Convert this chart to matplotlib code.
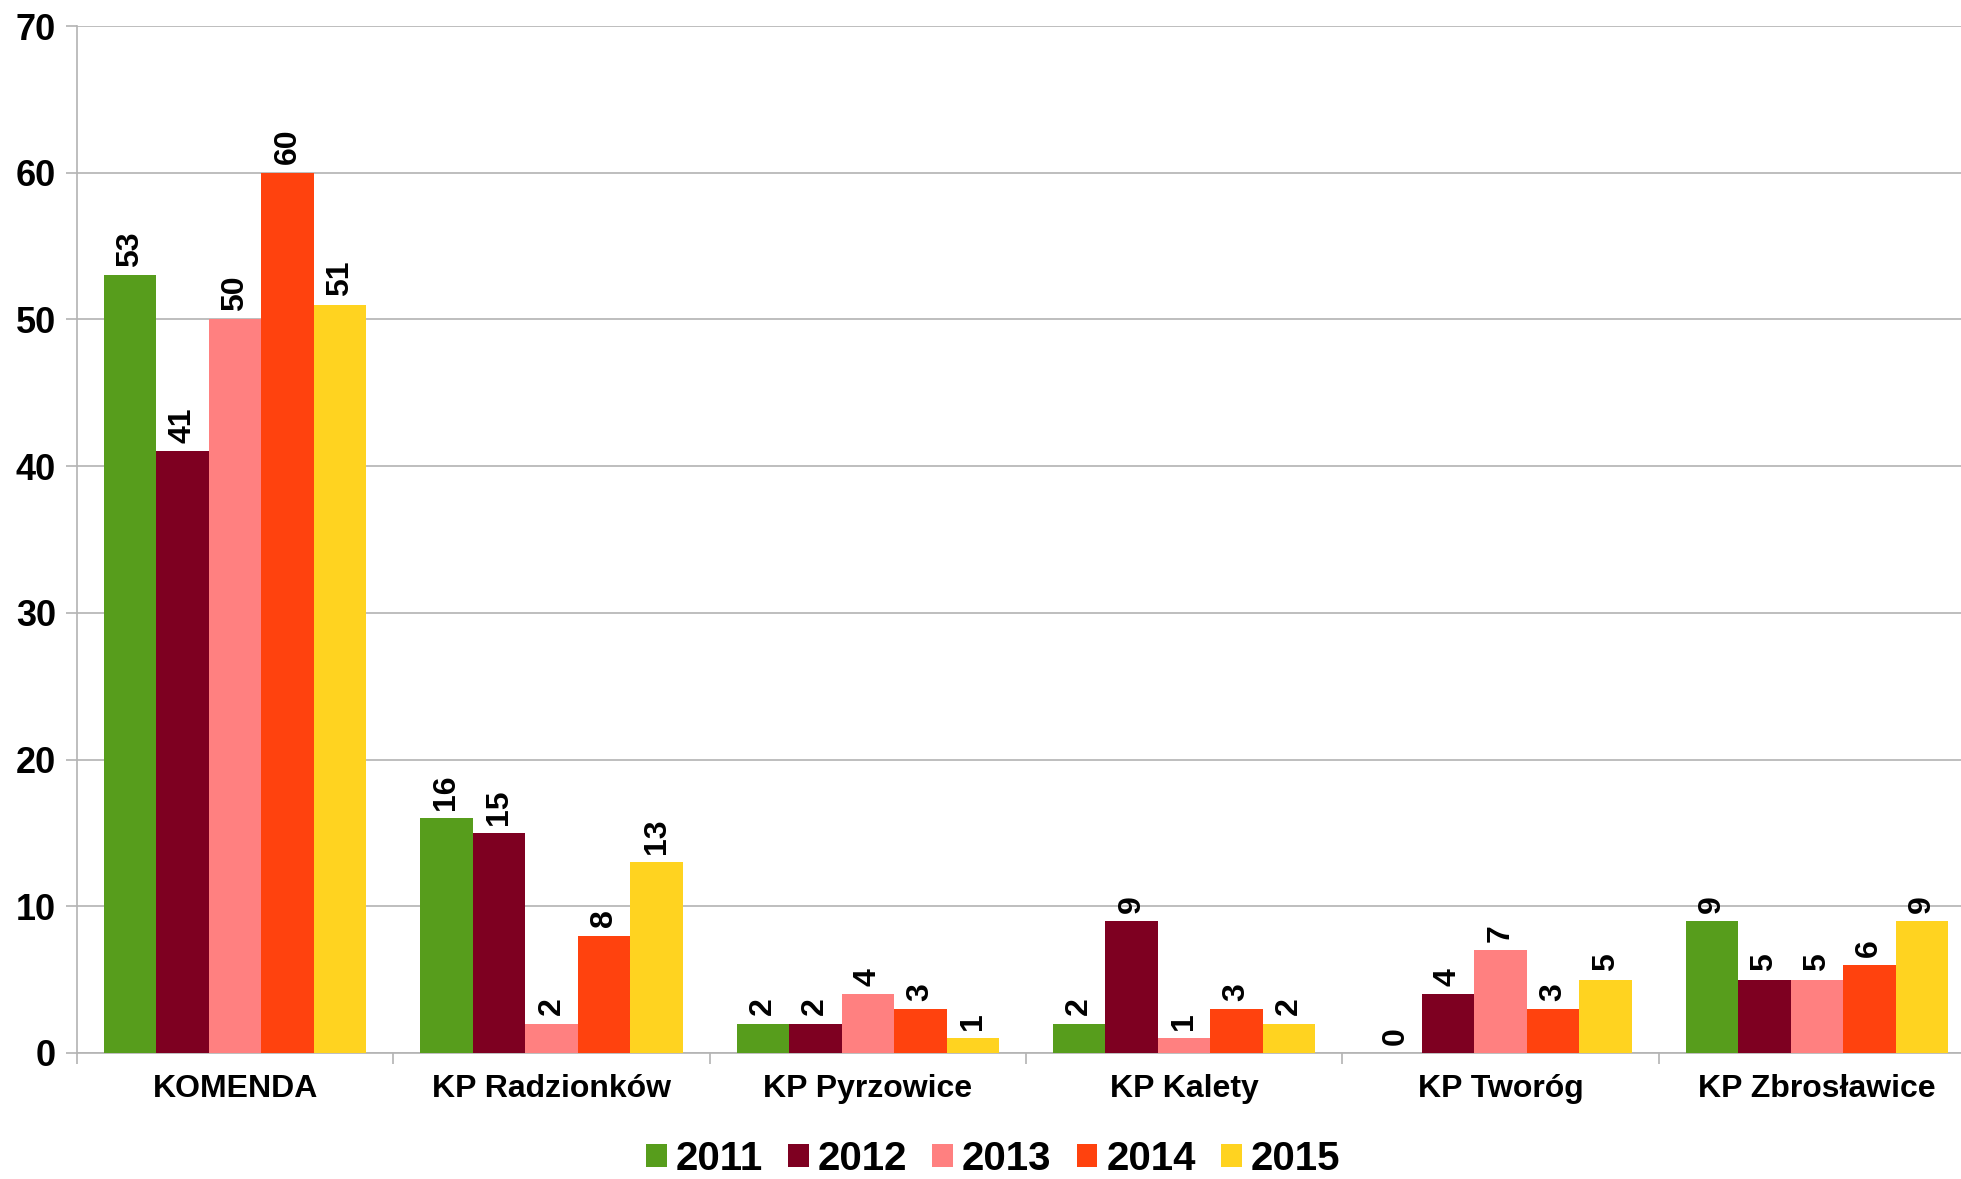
import matplotlib
matplotlib.use("Agg")
import matplotlib.pyplot as plt
import numpy as np
from matplotlib.patches import Patch

categories = ["KOMENDA", "KP Radzionków", "KP Pyrzowice", "KP Kalety", "KP Tworóg", "KP Zbrosławice"]
years = ["2011", "2012", "2013", "2014", "2015"]
v2011 = [53, 16, 2, 2, 0, 9]
v2012 = [41, 15, 2, 9, 4, 5]
v2013 = [50, 2, 4, 1, 7, 5]
v2014 = [60, 8, 3, 3, 3, 6]
v2015 = [51, 13, 1, 2, 5, 9]
series = [v2011, v2012, v2013, v2014, v2015]
colors = ["#579D1C", "#7E0021", "#FF8080", "#FF420E", "#FFD320"]
yticks = [0, 10, 20, 30, 40, 50, 60, 70]

plt.rcParams['font.family'] = ['Liberation Sans', 'DejaVu Sans']
plt.rcParams['font.weight'] = 'bold'

fig = plt.figure(figsize=(19.61, 11.79), dpi=100)
ax = fig.add_axes([77/1961, 126/1179, (1975 - 77)/1961, (1053-26)/1179])

x = np.arange(len(categories))
w = 0.83 / 5
for i, (vals, c) in enumerate(zip(series, colors)):
    pos = x + (i - 2) * w
    ax.bar(pos, vals, width=w, color=c, align='center', zorder=3)
    for p, v in zip(pos, vals):
        ax.annotate(str(v), xy=(p, v), xytext=(0, 6), textcoords='offset points',
                    rotation=90, ha='center', va='bottom', fontsize=23,
                    fontweight='bold', zorder=4)

ax.set_xlim(-0.5, len(categories) - 0.5)
ax.set_ylim(0, 70)
ax.set_yticks(yticks)
ax.set_yticklabels([str(t) for t in yticks], fontsize=26, fontweight='bold')
ax.yaxis.grid(True, color='#b3b3b3', linewidth=1.2, zorder=0)
ax.set_xticks(x)
ax.set_xticklabels(categories, fontsize=23, fontweight='bold')
ax.set_xticks(np.arange(-0.5, len(categories)), minor=True)
ax.tick_params(axis='x', which='major', length=0, pad=15)
ax.tick_params(axis='x', which='minor', length=8, color='#b3b3b3', width=1.2)
ax.tick_params(axis='y', length=8, color='#b3b3b3', width=1.2, pad=7)
for s in ['top', 'right']:
    ax.spines[s].set_visible(False)
for s in ['left', 'bottom']:
    ax.spines[s].set_color('#b3b3b3')
    ax.spines[s].set_linewidth(1.2)

handles = [Patch(facecolor=c, edgecolor='none') for c in colors]
fig.legend(handles, years, loc='center', bbox_to_anchor=(993/1961, 20/1179), ncol=5,
           frameon=False, prop={'size': 29, 'weight': 'bold'}, handlelength=0.52,
           handleheight=0.52, handletextpad=0.22, columnspacing=0.62,
           borderpad=0.1)

fig.savefig("out.png", dpi=100, facecolor='white')
